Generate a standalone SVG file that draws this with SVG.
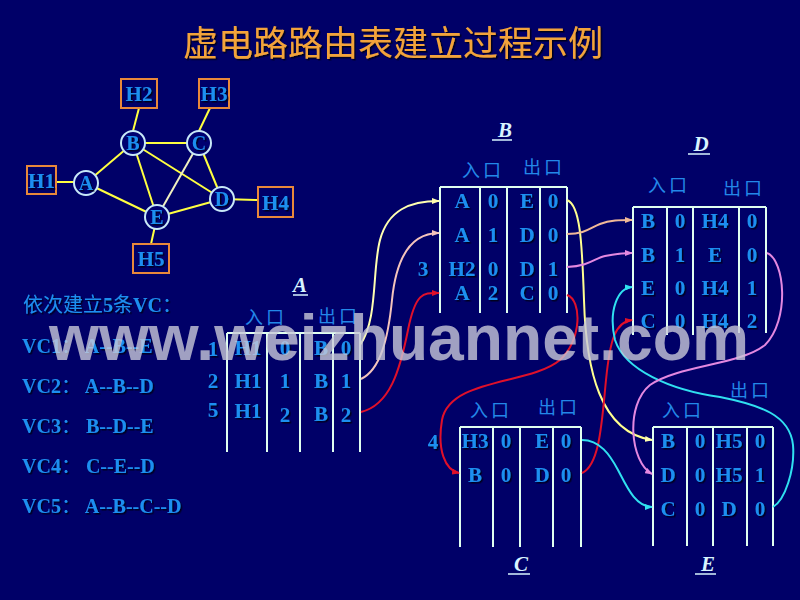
<svg xmlns="http://www.w3.org/2000/svg" width="800" height="600" viewBox="0 0 800 600">
<defs>
<style>
.bg{fill:#000068}
.title{font-family:"Noto Sans CJK SC","Liberation Sans",sans-serif;font-size:35px;fill:#f2a33a}
.link{stroke:#ffff40;stroke-width:2;fill:none}
.host{fill:none;stroke:#e8883a;stroke-width:2}
.node{fill:#000070;stroke:#c8e8f8;stroke-width:2}
.lbl{font-family:"Liberation Serif",serif;font-weight:bold;font-size:21px;fill:#1e8ff0;text-anchor:middle}
.nl{font-family:"Liberation Serif",serif;font-weight:bold;font-size:20px;fill:#1e8ff0;text-anchor:middle}
.vc{font-family:"Liberation Serif","Noto Sans CJK SC",serif;font-weight:bold;font-size:20px;fill:#1e8ff0}
.cn{font-family:"Noto Sans CJK SC",sans-serif;font-weight:normal}
.hd{font-family:"Noto Sans CJK SC",sans-serif;font-size:18px;fill:#2388e8;letter-spacing:3px}
.tl{stroke:#e0fff0;stroke-width:2;fill:none}
.tt{font-family:"Liberation Serif",serif;font-weight:bold;font-style:italic;font-size:21px;fill:#d8f4ff;text-anchor:middle}
.ul{stroke:#d8f4ff;stroke-width:1.5}
.c{fill:none;stroke-width:2}
.wm{font-family:"Liberation Sans",sans-serif;font-weight:bold;font-size:64px;fill:#c8c8d8;fill-opacity:0.8}
</style>
<filter id="sh" x="-10%" y="-10%" width="130%" height="130%">
<feDropShadow dx="1.5" dy="1.5" stdDeviation="0.6" flood-color="#000018" flood-opacity="0.9"/>
</filter>
<marker id="mY" markerUnits="userSpaceOnUse" markerWidth="8" markerHeight="6" refX="7" refY="3" orient="auto"><path d="M0,0 L8,3 L0,6 z" fill="#ffffb0"/></marker>
<marker id="mP" markerUnits="userSpaceOnUse" markerWidth="8" markerHeight="6" refX="7" refY="3" orient="auto"><path d="M0,0 L8,3 L0,6 z" fill="#f4c4bc"/></marker>
<marker id="mO" markerUnits="userSpaceOnUse" markerWidth="8" markerHeight="6" refX="7" refY="3" orient="auto"><path d="M0,0 L8,3 L0,6 z" fill="#f0b898"/></marker>
<marker id="mR" markerUnits="userSpaceOnUse" markerWidth="8" markerHeight="6" refX="7" refY="3" orient="auto"><path d="M0,0 L8,3 L0,6 z" fill="#e0102a"/></marker>
<marker id="mV" markerUnits="userSpaceOnUse" markerWidth="8" markerHeight="6" refX="7" refY="3" orient="auto"><path d="M0,0 L8,3 L0,6 z" fill="#e488e0"/></marker>
<marker id="mC" markerUnits="userSpaceOnUse" markerWidth="8" markerHeight="6" refX="7" refY="3" orient="auto"><path d="M0,0 L8,3 L0,6 z" fill="#30e0f0"/></marker>
</defs>
<rect class="bg" x="0" y="0" width="800" height="600"/>

<text class="title" x="393" y="56" text-anchor="middle" filter="url(#sh)">虚电路路由表建立过程示例</text>

<!-- network graph -->
<g id="net-links">
<line class="link" x1="139" y1="108" x2="133" y2="131"/>
<line class="link" x1="210" y1="108" x2="199" y2="131"/>
<line class="link" x1="56" y1="182" x2="74" y2="182"/>
<line class="link" x1="86" y1="183" x2="133" y2="143"/>
<line class="link" x1="86" y1="183" x2="157" y2="217"/>
<line class="link" x1="133" y1="143" x2="199" y2="143"/>
<line class="link" x1="133" y1="143" x2="157" y2="217"/>
<line class="link" x1="133" y1="143" x2="222" y2="199"/>
<line class="link" x1="199" y1="143" x2="222" y2="199"/>
<line class="link" x1="199" y1="143" x2="157" y2="217" style="stroke:#f0f0c0"/>
<line class="link" x1="157" y1="217" x2="222" y2="199"/>
<line class="link" x1="222" y1="199" x2="258" y2="200"/>
<line class="link" x1="157" y1="217" x2="151" y2="244"/>
</g>
<g id="H1"><rect class="host" x="27" y="166" width="29" height="28"/><text class="lbl" x="41.5" y="188" filter="url(#sh)">H1</text></g>
<g id="H2"><rect class="host" x="121" y="79" width="36" height="29"/><text class="lbl" x="139" y="101" filter="url(#sh)">H2</text></g>
<g id="H3"><rect class="host" x="199" y="79" width="30" height="29"/><text class="lbl" x="214" y="101" filter="url(#sh)">H3</text></g>
<g id="H4"><rect class="host" x="258" y="187" width="35" height="30"/><text class="lbl" x="275.5" y="210" filter="url(#sh)">H4</text></g>
<g id="H5"><rect class="host" x="133" y="244" width="36" height="29"/><text class="lbl" x="151" y="266" filter="url(#sh)">H5</text></g>
<g id="nA"><circle class="node" cx="86" cy="183" r="12"/><text class="nl" x="86" y="190" filter="url(#sh)">A</text></g>
<g id="nB"><circle class="node" cx="133" cy="143" r="12"/><text class="nl" x="133" y="150" filter="url(#sh)">B</text></g>
<g id="nC"><circle class="node" cx="199" cy="143" r="12"/><text class="nl" x="199" y="150" filter="url(#sh)">C</text></g>
<g id="nD"><circle class="node" cx="222" cy="199" r="12"/><text class="nl" x="222" y="206" filter="url(#sh)">D</text></g>
<g id="nE"><circle class="node" cx="157" cy="217" r="12"/><text class="nl" x="157" y="224" filter="url(#sh)">E</text></g>

<!-- VC list -->
<g id="vclist" filter="url(#sh)">
<text class="vc" x="23" y="312"><tspan class="cn">依次建立</tspan>5<tspan class="cn">条</tspan>VC<tspan class="cn">：</tspan></text>
<text class="vc" x="22" y="353">VC1<tspan class="cn">：</tspan> A--B--E</text>
<text class="vc" x="22" y="393">VC2<tspan class="cn">：</tspan> A--B--D</text>
<text class="vc" x="22" y="433">VC3<tspan class="cn">：</tspan> B--D--E</text>
<text class="vc" x="22" y="473">VC4<tspan class="cn">：</tspan> C--E--D</text>
<text class="vc" x="22" y="513">VC5<tspan class="cn">：</tspan> A--B--C--D</text>
</g>

<!-- Table A -->
<g id="tableA">
<text class="tt" x="300" y="292">A</text><line class="ul" x1="293" y1="295" x2="308" y2="295"/>
<text class="hd" x="245" y="324">入口</text><text class="hd" x="318" y="323">出口</text>
<path class="tl" d="M227,333 H360 M227,333 V452 M267,333 V452 M300,333 V452 M333,333 V452 M360,333 V452"/>
<g filter="url(#sh)">
<text class="lbl" x="213" y="356">1</text><text class="lbl" x="213" y="388">2</text><text class="lbl" x="213" y="417">5</text>
<text class="lbl" x="248" y="355">H1</text><text class="lbl" x="285" y="355">0</text><text class="lbl" x="321" y="355">B</text><text class="lbl" x="346" y="355">0</text>
<text class="lbl" x="248" y="388">H1</text><text class="lbl" x="285" y="388">1</text><text class="lbl" x="321" y="388">B</text><text class="lbl" x="346" y="388">1</text>
<text class="lbl" x="248" y="418">H1</text><text class="lbl" x="285" y="422">2</text><text class="lbl" x="321" y="421">B</text><text class="lbl" x="346" y="422">2</text>
</g>
</g>

<!-- Table B -->
<g id="tableB">
<text class="tt" x="505" y="137">B</text><line class="ul" x1="492" y1="140" x2="512" y2="140"/>
<text class="hd" x="462" y="177">入口</text><text class="hd" x="523" y="174">出口</text>
<path class="tl" d="M440,187 H567 M440,187 V313 M480,187 V313 M507,187 V313 M540,187 V313 M567,187 V313"/>
<g filter="url(#sh)">
<text class="lbl" x="423" y="276">3</text>
<text class="lbl" x="462" y="208">A</text><text class="lbl" x="493" y="208">0</text><text class="lbl" x="527" y="208">E</text><text class="lbl" x="553" y="208">0</text>
<text class="lbl" x="462" y="242">A</text><text class="lbl" x="493" y="242">1</text><text class="lbl" x="527" y="242">D</text><text class="lbl" x="553" y="242">0</text>
<text class="lbl" x="462" y="276">H2</text><text class="lbl" x="493" y="276">0</text><text class="lbl" x="527" y="276">D</text><text class="lbl" x="553" y="276">1</text>
<text class="lbl" x="462" y="300">A</text><text class="lbl" x="493" y="300">2</text><text class="lbl" x="527" y="300">C</text><text class="lbl" x="553" y="300">0</text>
</g>
</g>

<!-- Table D -->
<g id="tableD">
<text class="tt" x="701" y="151">D</text><line class="ul" x1="688" y1="154" x2="710" y2="154"/>
<text class="hd" x="648" y="192">入口</text><text class="hd" x="723" y="195">出口</text>
<path class="tl" d="M633,207 H766 M633,207 V335 M667,207 V335 M693,207 V335 M739,207 V333 M766,207 V333"/>
<g filter="url(#sh)">
<text class="lbl" x="648" y="228">B</text><text class="lbl" x="680" y="228">0</text><text class="lbl" x="715" y="228">H4</text><text class="lbl" x="752" y="228">0</text>
<text class="lbl" x="648" y="262">B</text><text class="lbl" x="680" y="262">1</text><text class="lbl" x="715" y="262">E</text><text class="lbl" x="752" y="262">0</text>
<text class="lbl" x="648" y="295">E</text><text class="lbl" x="680" y="295">0</text><text class="lbl" x="715" y="295">H4</text><text class="lbl" x="752" y="295">1</text>
<text class="lbl" x="648" y="328">C</text><text class="lbl" x="680" y="328">0</text><text class="lbl" x="715" y="328">H4</text><text class="lbl" x="752" y="328">2</text>
</g>
</g>

<!-- Table C -->
<g id="tableC">
<text class="tt" x="521" y="571">C</text><line class="ul" x1="508" y1="574" x2="530" y2="574"/>
<text class="hd" x="470" y="417">入口</text><text class="hd" x="538" y="414">出口</text>
<path class="tl" d="M460,427 H581 M460,427 V547 M493,427 V547 M520,427 V547 M553,427 V547 M581,427 V547"/>
<g filter="url(#sh)">
<text class="lbl" x="433" y="449">4</text>
<text class="lbl" x="475" y="448">H3</text><text class="lbl" x="506" y="448">0</text><text class="lbl" x="542" y="448">E</text><text class="lbl" x="566" y="448">0</text>
<text class="lbl" x="475" y="482">B</text><text class="lbl" x="506" y="482">0</text><text class="lbl" x="542" y="482">D</text><text class="lbl" x="566" y="482">0</text>
</g>
</g>

<!-- Table E -->
<g id="tableE">
<text class="tt" x="708" y="571">E</text><line class="ul" x1="695" y1="574" x2="716" y2="574"/>
<text class="hd" x="662" y="417">入口</text><text class="hd" x="730" y="397">出口</text>
<path class="tl" d="M653,427 H773 M653,427 V546 M687,427 V546 M713,427 V546 M747,427 V546 M773,427 V546"/>
<g filter="url(#sh)">
<text class="lbl" x="668" y="448">B</text><text class="lbl" x="700" y="448">0</text><text class="lbl" x="729" y="448">H5</text><text class="lbl" x="760" y="448">0</text>
<text class="lbl" x="668" y="482">D</text><text class="lbl" x="700" y="482">0</text><text class="lbl" x="729" y="482">H5</text><text class="lbl" x="760" y="482">1</text>
<text class="lbl" x="668" y="516">C</text><text class="lbl" x="700" y="516">0</text><text class="lbl" x="729" y="516">D</text><text class="lbl" x="760" y="516">0</text>
</g>
</g>

<!-- connectors -->
<g id="connectors">
<path class="c" stroke="#ffffb0" marker-end="url(#mY)" d="M360,345 C378,320 372,270 380,240 S410,201 439,201"/>
<path class="c" stroke="#f4c4bc" marker-end="url(#mP)" d="M361,379 C380,370 388,340 392,300 S410,233 439,233"/>
<path class="c" stroke="#e0102a" marker-end="url(#mR)" d="M361,412 C390,405 400,370 408,330 S425,293 439,293"/>
<path class="c" stroke="#ffff90" marker-end="url(#mY)" d="M567,200 C580,205 582,240 584,300 C586,370 600,432 652,440"/>
<path class="c" stroke="#f0b898" marker-end="url(#mO)" d="M567,234 C585,234 590,228 600,224 S620,220 632,220"/>
<path class="c" stroke="#e488e0" marker-end="url(#mV)" d="M567,267 C590,266 595,258 605,256 S620,253 632,253"/>
<path class="c" stroke="#e0102a" marker-end="url(#mR)" d="M567,295 C582,300 582,340 560,360 C530,385 450,378 442,420 C437,450 445,470 459,473"/>
<path class="c" stroke="#e0102a" marker-end="url(#mR)" d="M582,473 C600,465 602,420 606,380 C610,340 615,322 632,320"/>
<path class="c" stroke="#30e0f0" marker-end="url(#mC)" d="M582,440 C600,440 610,455 618,470 S635,507 652,507"/>
<path class="c" stroke="#30e0f0" marker-end="url(#mC)" d="M773,507 C785,500 795,470 793,445 C790,415 760,405 720,397 C670,390 625,370 615,340 C608,310 618,288 632,287"/>
<path class="c" stroke="#e488e0" marker-end="url(#mV)" d="M767,253 C785,260 790,320 765,345 C740,365 680,365 650,385 C625,405 630,462 652,474"/>
</g>

<text class="wm" x="49" y="360" textLength="700" lengthAdjust="spacingAndGlyphs">www.weizhuannet.com</text>
</svg>
